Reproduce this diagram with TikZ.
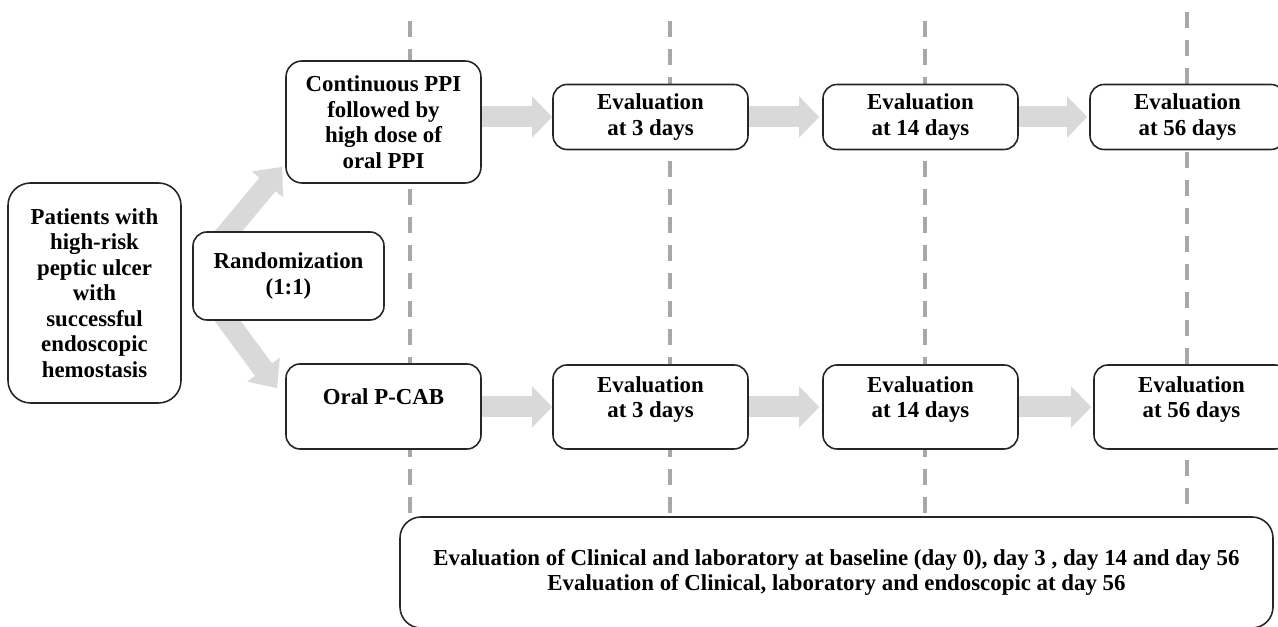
\documentclass[tikz,border=0pt]{standalone}
\usepackage{fontspec}
\setmainfont{Liberation Serif}
\usepackage{tikz}
\usetikzlibrary{arrows.meta,backgrounds}
\definecolor{grisito}{RGB}{217,217,217}
\definecolor{grislinea}{RGB}{172,167,167}
\tikzset{caja/.style={draw=black!85, line width=0.9pt, fill=white, rounded corners=0.28cm, align=center, inner sep=2pt, font=\fontsize{13}{14.5}\selectfont\bfseries},
	flecha/.style={grisito, line width=0.42cm, -{Triangle[width=0.8cm,length=0.4cm]}},
	diagonal/.style={grisito, line width=0.42cm, -{Triangle[width=0.78cm,length=0.46cm]}},
	tiempo/.style={grislinea, line width=2.2pt, dash pattern=on 0.32cm off 0.24cm},
	subido/.style={text depth=0.4cm}}

\begin{document}
\begin{tikzpicture}
	\useasboundingbox (0,0) rectangle (25.56,12.54);
	
	\node[caja, rounded corners=0.45cm, minimum width=3.46cm, minimum height=4.4cm] (pac) at (1.89,6.68) {Patients with\\high-risk\\peptic ulcer\\with\\successful\\endoscopic\\hemostasis};
	\node[caja, minimum width=3.82cm, minimum height=1.76cm] (rand) at (5.77,7.02) {Randomization\\(1:1)};
	
	\node[caja, rounded corners=0.32cm, minimum width=3.9cm, minimum height=2.44cm] (ppi) at (7.67,10.1) {Continuous PPI\\followed by\\high dose of\\oral PPI};
	\node[caja, subido, minimum width=3.9cm, minimum height=1.7cm] (pcab) at (7.67,4.41) {Oral P-CAB};
	
	% fila de arriba
	\node[caja, minimum width=3.9cm, minimum height=1.3cm] (evA1) at (13.01,10.2) {Evaluation\\at 3 days};
	\node[caja, minimum width=3.9cm, minimum height=1.3cm] (evA2) at (18.41,10.2) {Evaluation\\at 14 days};
	\node[caja, minimum width=3.9cm, minimum height=1.3cm] (evA3) at (23.75,10.2) {Evaluation\\at 56 days};
	% fila de abajo
	\node[caja, subido, minimum width=3.9cm, minimum height=1.68cm] (evB1) at (13.01,4.4) {Evaluation\\at 3 days};
	\node[caja, subido, minimum width=3.9cm, minimum height=1.68cm] (evB2) at (18.41,4.4) {Evaluation\\at 14 days};
	\node[caja, subido, minimum width=3.9cm, minimum height=1.68cm] (evB3) at (23.83,4.4) {Evaluation\\at 56 days};
	
	\node[caja, rounded corners=0.42cm, minimum width=17.46cm, minimum height=2.22cm] (resumen) at (16.73,1.09) {Evaluation of Clinical and laboratory at baseline (day 0), day 3 , day 14 and day 56\\Evaluation of Clinical, laboratory and endoscopic at day 56};
	
	\begin{scope}[on background layer]
		\foreach \x/\arriba in {8.2/12.12, 13.4/12.12, 18.5/12.12, 23.74/12.3}
			\draw[tiempo] (\x,\arriba) -- (\x,0 |- resumen.north);
		
		\coordinate (puntaA) at ([xshift=-0.06cm, yshift=0.34cm]ppi.south west);
		\coordinate (puntaB) at ([xshift=-0.16cm, yshift=-0.5cm]pcab.north west);
		\draw[diagonal] ([xshift=0.56cm, yshift=-0.2cm]rand.north west) -- (puntaA);
		\draw[diagonal] ([xshift=0.56cm, yshift=0.2cm]rand.south west) -- (puntaB);
	\end{scope}
	
	\draw[flecha] (ppi.east |- evA1.west) -- (evA1.west);
	\draw[flecha] (evA1.east) -- ([xshift=-0.06cm]evA2.west);
	\draw[flecha] (evA2.east) -- ([xshift=-0.04cm]evA3.west);
	
	\draw[flecha] (pcab.east |- evB1.west) -- (evB1.west);
	\draw[flecha] (evB1.east) -- ([xshift=-0.06cm]evB2.west);
	\draw[flecha] (evB2.east) -- ([xshift=-0.04cm]evB3.west);
\end{tikzpicture}
\end{document}
